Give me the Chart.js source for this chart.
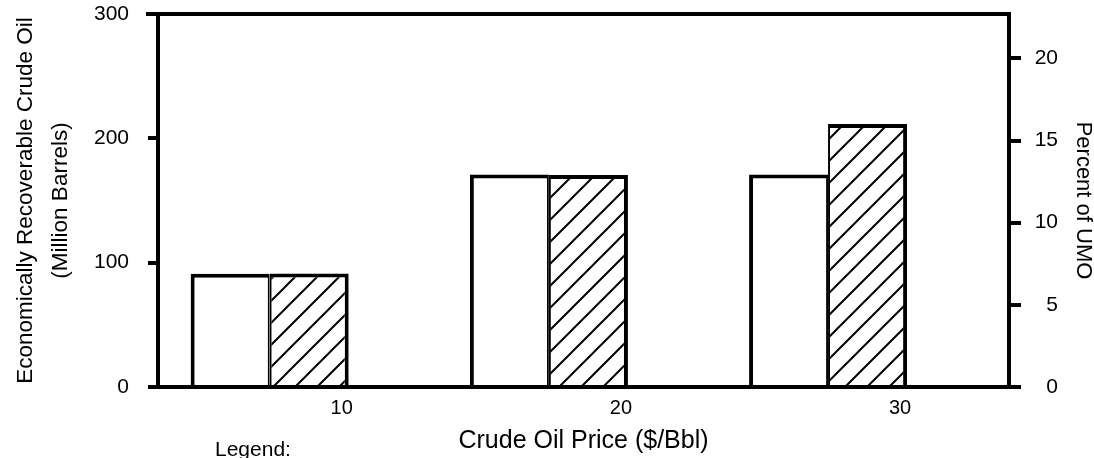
<!DOCTYPE html>
<html>
<head>
<meta charset="utf-8">
<script src="https://cdn.jsdelivr.net/npm/chart.js@4/dist/chart.umd.min.js"></script>
<style>
html,body{margin:0;padding:0;background:#fff;}
#wrap{position:relative;width:1094px;height:458px;overflow:hidden;background:#fff;}
#c{display:block;}
#legendLabel{position:absolute;left:215px;top:438px;font-size:21px;line-height:21px;font-family:"Liberation Sans",Arial,Helvetica,sans-serif;color:#000;white-space:nowrap;}
</style>
</head>
<body>
<div id="wrap">
<canvas id="c" width="1094" height="458"></canvas>
<div id="legendLabel">Legend:</div>
</div>
<script>
// ---- data ----
const categories = ['10', '20', '30'];            // crude oil price ($/Bbl)
const recoverableBarrels = [91, 171, 171];         // million barrels (left axis, open bars)
const percentUMO = [6.9, 12.9, 16.0];              // percent of UMO (right axis, hatched bars)
const leftTickValues = [0, 100, 200, 300];
const rightTickValues = [0, 5, 10, 15, 20];

const FONT = '"Liberation Sans", Arial, Helvetica, sans-serif';
Chart.defaults.font.family = FONT;
Chart.defaults.color = '#000';

const canvas = document.getElementById('c');
const ctx = canvas.getContext('2d');

function makeHatch() {
  const s = 22;
  const t = document.createElement('canvas');
  t.width = s; t.height = s;
  const g = t.getContext('2d');
  g.fillStyle = '#fff';
  g.fillRect(0, 0, s, s);
  g.strokeStyle = '#000';
  g.lineWidth = 2;
  g.beginPath();
  g.moveTo(-2, s + 2); g.lineTo(s + 2, -2);
  g.moveTo(-3, 3); g.lineTo(3, -3);
  g.moveTo(s - 3, s + 3); g.lineTo(s + 3, s - 3);
  g.stroke();
  return ctx.createPattern(t, 'repeat');
}

const topLine = {
  id: 'topLine',
  afterDraw(chart) {
    const a = chart.chartArea;
    const c = chart.ctx;
    c.save();
    c.strokeStyle = '#000';
    c.lineWidth = 4;
    c.beginPath();
    c.moveTo(a.left - 12, a.top);
    c.lineTo(a.right + 2, a.top);
    c.stroke();
    c.restore();
  }
};

function noPadV(s, w) { s.width = w; s.paddingTop = 0; s.paddingBottom = 0; }

new Chart(ctx, {
  type: 'bar',
  data: {
    datasets: [
      {
        label: 'Economically Recoverable Crude Oil (Million Barrels)',
        data: categories.map((c, i) => ({ x: i, y: recoverableBarrels[i] })),
        yAxisID: 'yL',
        backgroundColor: '#fff',
        borderColor: '#000',
        borderWidth: { top: 4, left: 4, right: 2, bottom: 0 },
        barPercentage: 1,
        categoryPercentage: 0.566
      },
      {
        label: 'Percent of UMO',
        data: categories.map((c, i) => ({ x: i, y: percentUMO[i] })),
        yAxisID: 'yR',
        backgroundColor: makeHatch(),
        borderColor: '#000',
        borderWidth: { top: 4, left: 2, right: 4, bottom: 0 },
        barPercentage: 1,
        categoryPercentage: 0.566
      }
    ]
  },
  options: {
    responsive: false,
    animation: false,
    events: [],
    layout: { padding: { top: 14, left: 0, right: 36, bottom: 0 } },
    plugins: { legend: { display: false }, tooltip: { enabled: false } },
    scales: {
      x: {
        type: 'linear',
        min: -0.4,
        max: 2.648,
        offset: false,
        grid: { display: false, drawTicks: false },
        border: { display: true, width: 4, color: '#000' },
        afterBuildTicks: s => { s.ticks = categories.map((c, i) => ({ value: i })); },
        ticks: {
          autoSkip: false,
          maxRotation: 0,
          labelOffset: 72,
          padding: 9,
          color: '#000',
          font: { size: 20 },
          callback: v => categories[v] ?? ''
        },
        afterFit: s => { s.height = 71; s.paddingLeft = 0; s.paddingRight = 0; },
        title: {
          display: true,
          text: 'Crude Oil Price ($/Bbl)',
          color: '#000',
          font: { size: 25 },
          padding: { top: 0, bottom: 2 }
        }
      },
      yL: {
        type: 'linear',
        position: 'left',
        min: 0,
        max: 300,
        grid: { drawOnChartArea: false, drawTicks: true, tickLength: 10, lineWidth: 4, color: '#000' },
        border: { display: true, width: 4, color: '#000' },
        afterBuildTicks: s => { s.ticks = leftTickValues.map(v => ({ value: v })); },
        ticks: { padding: 19, color: '#000', font: { size: 21 } },
        afterFit: s => noPadV(s, 158),
        title: {
          display: true,
          text: ['Economically Recoverable Crude Oil', '(Million Barrels)'],
          color: '#000',
          font: { size: 22.5, lineHeight: 1.52 },
          padding: { top: 9, bottom: 0 }
        }
      },
      yR: {
        type: 'linear',
        position: 'right',
        min: 0,
        max: 22.7,
        grid: { drawOnChartArea: false, drawTicks: true, tickLength: 12, lineWidth: 4, color: '#000' },
        border: { display: true, width: 4, color: '#000' },
        afterBuildTicks: s => { s.ticks = rightTickValues.map(v => ({ value: v })); },
        ticks: { padding: 14, crossAlign: 'far', color: '#000', font: { size: 21 } },
        afterFit: s => noPadV(s, 49),
        title: {
          display: true,
          text: 'Percent of UMO',
          color: '#000',
          font: { size: 22, lineHeight: 1 },
          padding: { top: -36, bottom: 0 }
        }
      }
    }
  },
  plugins: [topLine]
});
</script>
</body>
</html>
